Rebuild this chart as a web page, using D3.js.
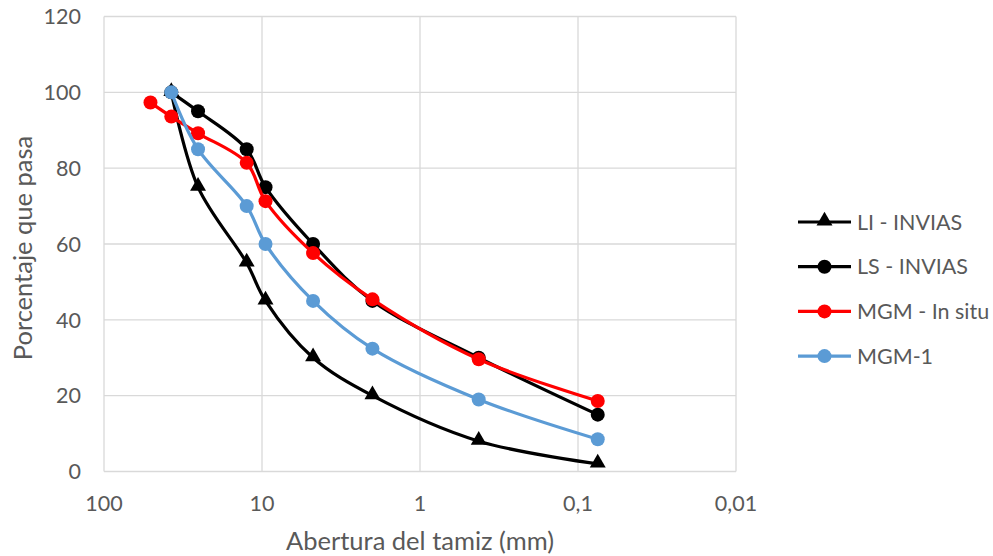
<!DOCTYPE html>
<html>
<head>
<meta charset="utf-8">
<script src="https://cdn.jsdelivr.net/npm/d3@7"></script>
<style>
body { margin: 0; background: #fff; }
text { font-family: Lato, "Open Sans", sans-serif; fill: #595959; }
</style>
</head>
<body>
<div id="chart"></div>
<script>
var svgWidth = 993;
var svgHeight = 556;

// sieve openings (mm)
var sizesLimits = [37.5, 25.4, 12.5, 9.5, 4.75, 2.0, 0.425, 0.075];
var sizesInSitu = [50.8, 37.5, 25.4, 12.5, 9.5, 4.75, 2.0, 0.425, 0.075];

var liInvias = [100, 75, 55, 45, 30, 20, 8, 2];
var lsInvias = [100, 95, 85, 75, 60, 45, 30, 15];
var mgmInSitu = [97.3, 93.6, 89.2, 81.4, 71.3, 57.6, 45.4, 29.6, 18.6];
var mgm1 = [100, 85, 70, 60, 45, 32.4, 19, 8.5];

var xTicks = [100, 10, 1, 0.1, 0.01];
var xTickLabels = ["100", "10", "1", "0,1", "0,01"];
var yTicks = [0, 20, 40, 60, 80, 100, 120];

var series = [
	{name: "LI - INVIAS", x: sizesLimits, y: liInvias, color: "#000000", marker: "triangle"},
	{name: "LS - INVIAS", x: sizesLimits, y: lsInvias, color: "#000000", marker: "circle"},
	{name: "MGM - In situ", x: sizesInSitu, y: mgmInSitu, color: "#ff0000", marker: "circle"},
	{name: "MGM-1", x: sizesLimits, y: mgm1, color: "#5b9bd5", marker: "circle"}
];

var margin = {top: 16.5, left: 104, right: 257, bottom: 84.5};
var width = svgWidth - margin.left - margin.right;
var height = svgHeight - margin.top - margin.bottom;

var svg = d3.select("#chart")
	.append("svg")
	.attr("width", svgWidth)
	.attr("height", svgHeight);

var chartGroup = svg.append("g")
	.attr("transform", `translate(${margin.left}, ${margin.top})`);

var xScale = d3.scaleLog().domain([100, 0.01]).range([0, width]);
var yScale = d3.scaleLinear().domain([0, 120]).range([height, 0]);

// gridlines
chartGroup.selectAll(".hgrid")
	.data(yTicks)
	.enter()
	.append("line")
	.attr("x1", 0)
	.attr("x2", width)
	.attr("y1", d => yScale(d))
	.attr("y2", d => yScale(d))
	.attr("stroke", "#d9d9d9")
	.attr("stroke-width", 1.3);

chartGroup.selectAll(".vgrid")
	.data(xTicks)
	.enter()
	.append("line")
	.attr("x1", d => xScale(d))
	.attr("x2", d => xScale(d))
	.attr("y1", 0)
	.attr("y2", height)
	.attr("stroke", "#d9d9d9")
	.attr("stroke-width", 1.3);

// tick labels
chartGroup.selectAll(".ylab")
	.data(yTicks)
	.enter()
	.append("text")
	.attr("x", -23)
	.attr("y", d => yScale(d))
	.attr("dy", "0.36em")
	.attr("text-anchor", "end")
	.style("font-size", "21.5px")
	.text(d => d);

chartGroup.selectAll(".xlab")
	.data(xTicks)
	.enter()
	.append("text")
	.attr("x", d => xScale(d))
	.attr("y", height + 39)
	.attr("text-anchor", "middle")
	.style("font-size", "21.5px")
	.text((d, i) => xTickLabels[i]);

// axis titles
svg.append("text")
	.attr("x", margin.left + width / 2)
	.attr("y", 550)
	.attr("text-anchor", "middle")
	.style("font-size", "25.5px")
	.text("Abertura del tamiz (mm)");

svg.append("text")
	.attr("transform", `translate(32, 248) rotate(-90)`)
	.attr("text-anchor", "middle")
	.style("font-size", "25.5px")
	.text("Porcentaje que pasa");

var line = d3.line()
	.x(d => xScale(d[0]))
	.y(d => yScale(d[1]))
	.curve(d3.curveCatmullRom.alpha(0.5));

var triangle = d3.symbol().type(d3.symbolTriangle).size(110);

series.forEach(function(s) {
	var pts = s.x.map((x, i) => [x, s.y[i]]);
	chartGroup.append("path")
		.datum(pts)
		.attr("d", line)
		.attr("fill", "none")
		.attr("stroke", s.color)
		.attr("stroke-width", 3.2)
		.attr("stroke-linejoin", "round");
	if (s.marker === "triangle") {
		chartGroup.selectAll(null)
			.data(pts)
			.enter()
			.append("path")
			.attr("d", triangle)
			.attr("transform", d => `translate(${xScale(d[0])}, ${yScale(d[1]) - 1})`)
			.attr("fill", s.color);
	} else {
		chartGroup.selectAll(null)
			.data(pts)
			.enter()
			.append("circle")
			.attr("cx", d => xScale(d[0]))
			.attr("cy", d => yScale(d[1]))
			.attr("r", 7)
			.attr("fill", s.color);
	}
});

// legend
var legend = svg.append("g").attr("transform", "translate(798, 222)");
series.forEach(function(s, i) {
	var g = legend.append("g").attr("transform", `translate(0, ${i * 44.7})`);
	g.append("line")
		.attr("x1", 0).attr("x2", 53)
		.attr("y1", 0).attr("y2", 0)
		.attr("stroke", s.color)
		.attr("stroke-width", 3.2);
	if (s.marker === "triangle") {
		g.append("path")
			.attr("d", triangle)
			.attr("transform", "translate(26.5, -1)")
			.attr("fill", s.color);
	} else {
		g.append("circle")
			.attr("cx", 26.5).attr("cy", 0).attr("r", 7)
			.attr("fill", s.color);
	}
	g.append("text")
		.attr("x", 59)
		.attr("y", 0)
		.attr("dy", "0.36em")
		.style("font-size", "21.5px")
		.text(s.name);
});
</script>
</body>
</html>
